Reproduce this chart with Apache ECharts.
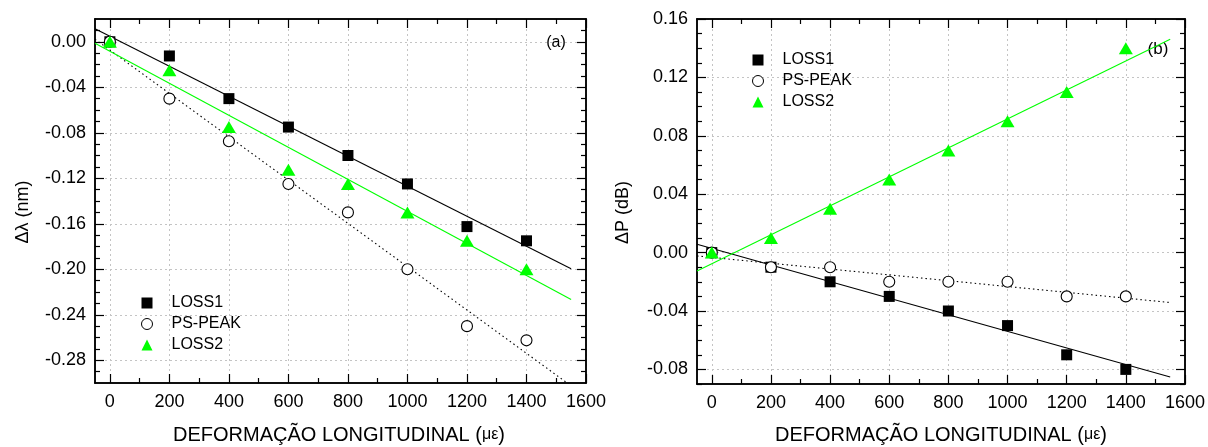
<!DOCTYPE html>
<html><head><meta charset="utf-8">
<script src="https://cdn.jsdelivr.net/npm/echarts@6/dist/echarts.min.js"></script>
<style>html,body{margin:0;padding:0;background:#fff}#c{width:1208px;height:447px}</style>
</head><body><div id="c"></div>
<script>
// ---- data ----
const strain = [0, 200, 400, 600, 800, 1000, 1200, 1400];
const dLambdaLoss1  = [0, -0.0125, -0.05, -0.075, -0.10, -0.125, -0.1625, -0.175];
const dLambdaPsPeak = [0, -0.05, -0.0875, -0.125, -0.15, -0.20, -0.25, -0.2625];
const dLambdaLoss2  = [0, -0.025, -0.075, -0.1125, -0.125, -0.15, -0.175, -0.20];
const dPowerLoss1   = [0, -0.01, -0.02, -0.03, -0.04, -0.05, -0.07, -0.08];
const dPowerPsPeak  = [0, -0.01, -0.01, -0.02, -0.02, -0.02, -0.03, -0.03];
const dPowerLoss2   = [0, 0.01, 0.03, 0.05, 0.07, 0.09, 0.11, 0.14];
// fitted lines: end points
const fitX = [-50, 1550];
const fitLambdaLoss1  = [0.0115, -0.1995];
const fitLambdaPsPeak = [0.0022, -0.3025];
const fitLambdaLoss2  = [-0.0014, -0.2266];
const fitPowerLoss1   = [0.0057, -0.0852];
const fitPowerPsPeak  = [-0.0023, -0.0342];
const fitPowerLoss2   = [-0.0126, 0.1461];
// ticks
const xMajor = [0, 200, 400, 600, 800, 1000, 1200, 1400, 1600];
const xMinor = [100, 300, 500, 700, 900, 1100, 1300, 1500];
const yMajorA = [0, -0.04, -0.08, -0.12, -0.16, -0.20, -0.24, -0.28];
const yMinorA = [0.01, -0.01, -0.02, -0.03, -0.05, -0.06, -0.07, -0.09, -0.10, -0.11, -0.13, -0.14, -0.15,
                 -0.17, -0.18, -0.19, -0.21, -0.22, -0.23, -0.25, -0.26, -0.27, -0.29];
const yMajorB = [0.16, 0.12, 0.08, 0.04, 0, -0.04, -0.08];
const yMinorB = [0.15, 0.14, 0.13, 0.11, 0.10, 0.09, 0.07, 0.06, 0.05, 0.03, 0.02, 0.01,
                 -0.01, -0.02, -0.03, -0.05, -0.06, -0.07, -0.09];
const seriesNames = ['LOSS1', 'PS-PEAK', 'LOSS2'];

const FONT = '"Liberation Sans", Arial, sans-serif';
const GREEN = '#00ff00';
const chart = echarts.init(document.getElementById('c'), null, {renderer: 'canvas'});

function axis(grid, position, min, max, ticks, len, extra) {
  return Object.assign({
    type: 'value', gridIndex: grid, position: position, min: min, max: max,
    axisLine: {show: true, onZero: false, lineStyle: {color: '#000', width: 1.5}},
    axisTick: {show: true, inside: true, length: len, customValues: ticks, lineStyle: {color: '#000', width: 1.2}},
    axisLabel: {show: false},
    splitLine: {show: false}
  }, extra || {});
}
const gridLine = {show: true, lineStyle: {color: '#c4c4c4', type: [2, 3], width: 1}};
function lbl(ticks, fmt, margin) {
  return {show: true, customValues: ticks, formatter: fmt, fontSize: 18, color: '#000', fontFamily: FONT, margin: margin};
}
const fx = v => String(v);
const fy = v => (Math.abs(v) < 1e-9 ? 0 : v).toFixed(2);

const xAxes = [];
const yAxes = [];
[0, 1].forEach(g => {
  xAxes.push(axis(g, 'bottom', -50, 1600, xMajor, 9, {axisLabel: lbl(xMajor, fx, 10), splitLine: gridLine}));
  xAxes.push(axis(g, 'bottom', -50, 1600, xMinor, 5));
  xAxes.push(axis(g, 'top', -50, 1600, xMajor, 9));
  xAxes.push(axis(g, 'top', -50, 1600, xMinor, 5));
});
[[0, -0.30, 0.02, yMajorA, yMinorA], [1, -0.09, 0.16, yMajorB, yMinorB]].forEach(([g, mn, mx, maj, mnr]) => {
  yAxes.push(axis(g, 'left', mn, mx, maj, 9, {axisLabel: lbl(maj, fy, 9), splitLine: gridLine}));
  yAxes.push(axis(g, 'left', mn, mx, mnr, 5));
  yAxes.push(axis(g, 'right', mn, mx, maj, 9));
  yAxes.push(axis(g, 'right', mn, mx, mnr, 5));
});

function pts(xs, ys) { return xs.map((x, i) => [x, ys[i]]); }
function fit(g, ys, color, type) {
  return {type: 'line', xAxisIndex: g * 4, yAxisIndex: g * 4, data: pts(fitX, ys), showSymbol: false,
    symbol: 'none', silent: true, clip: true, lineStyle: {color: color, width: 1.1, type: type}, z: 2};
}
function scat(g, name, ys) {
  const base = {type: 'scatter', name: name, xAxisIndex: g * 4, yAxisIndex: g * 4, data: pts(strain, ys), z: 3};
  if (name === 'LOSS1') return Object.assign(base, {symbol: 'rect', symbolSize: 11, itemStyle: {color: '#000', opacity: 1}});
  if (name === 'PS-PEAK') return Object.assign(base, {symbol: 'circle', symbolSize: 11,
    itemStyle: {color: '#fff', borderColor: '#000', borderWidth: 1.1, opacity: 1}});
  return Object.assign(base, {symbol: 'triangle', symbolSize: [14, 12], itemStyle: {color: GREEN, opacity: 1}});
}

const series = [
  fit(0, fitLambdaLoss1, '#000', 'solid'),
  fit(0, fitLambdaPsPeak, '#000', [1.5, 3]),
  fit(0, fitLambdaLoss2, GREEN, 'solid'),
  scat(0, 'LOSS1', dLambdaLoss1),
  scat(0, 'PS-PEAK', dLambdaPsPeak),
  scat(0, 'LOSS2', dLambdaLoss2),
  fit(1, fitPowerLoss1, '#000', 'solid'),
  fit(1, fitPowerPsPeak, '#000', [1.5, 3]),
  fit(1, fitPowerLoss2, GREEN, 'solid'),
  scat(1, 'LOSS1', dPowerLoss1),
  scat(1, 'PS-PEAK', dPowerPsPeak),
  scat(1, 'LOSS2', dPowerLoss2)
];

function legend(left, top) {
  return {
    data: [
      {name: 'LOSS1', icon: 'rect', itemStyle: {color: '#000', borderWidth: 0, opacity: 1}},
      {name: 'PS-PEAK', icon: 'circle', itemStyle: {color: '#fff', borderColor: '#000', borderWidth: 1, opacity: 1}},
      {name: 'LOSS2', icon: 'triangle', itemStyle: {color: GREEN, borderWidth: 0, opacity: 1}}
    ],
    orient: 'vertical', left: left, top: top, padding: 0, itemWidth: 11, itemHeight: 11,
    itemGap: 5, selectedMode: false,
    textStyle: {fontSize: 16, color: '#000', fontFamily: FONT, padding: [0, 0, 0, 14]}
  };
}
const xTitle = {rich: {a: {fontSize: 20, fontFamily: FONT, color: '#000'}, b: {fontSize: 16, fontFamily: FONT, color: '#000'}}};

chart.setOption({
  animation: false,
  backgroundColor: '#fff',
  grid: [
    {left: 95, top: 19, width: 491, height: 364},
    {left: 697, top: 19, width: 489, height: 365}
  ],
  xAxis: xAxes,
  yAxis: yAxes,
  legend: [legend(141, 295), legend(752, 52)],
  series: series,
  graphic: [
    {type: 'text', left: 173, top: 425, style: {text: '{a|DEFORMAÇÃO LONGITUDINAL (}{b|με}{a|)}', rich: xTitle.rich}},
    {type: 'text', left: 775, top: 425, style: {text: '{a|DEFORMAÇÃO LONGITUDINAL (}{b|με}{a|)}', rich: xTitle.rich}},
    {type: 'text', x: 23.5, y: 212, rotation: Math.PI / 2,
      style: {text: 'Δλ (nm)', fontSize: 18, fontFamily: FONT, fill: '#000', align: 'center', verticalAlign: 'middle'}},
    {type: 'text', x: 623.5, y: 212.5, rotation: Math.PI / 2,
      style: {text: 'ΔP (dB)', fontSize: 18, fontFamily: FONT, fill: '#000', align: 'center', verticalAlign: 'middle'}},
    {type: 'text', x: 556, y: 43, style: {text: '(a)', fontSize: 16, fontFamily: FONT, fill: '#000', align: 'center', verticalAlign: 'middle'}},
    {type: 'text', x: 1158, y: 49, style: {text: '(b)', fontSize: 17, fontFamily: FONT, fill: '#000', align: 'center', verticalAlign: 'middle'}}
  ]
});
</script></body></html>
